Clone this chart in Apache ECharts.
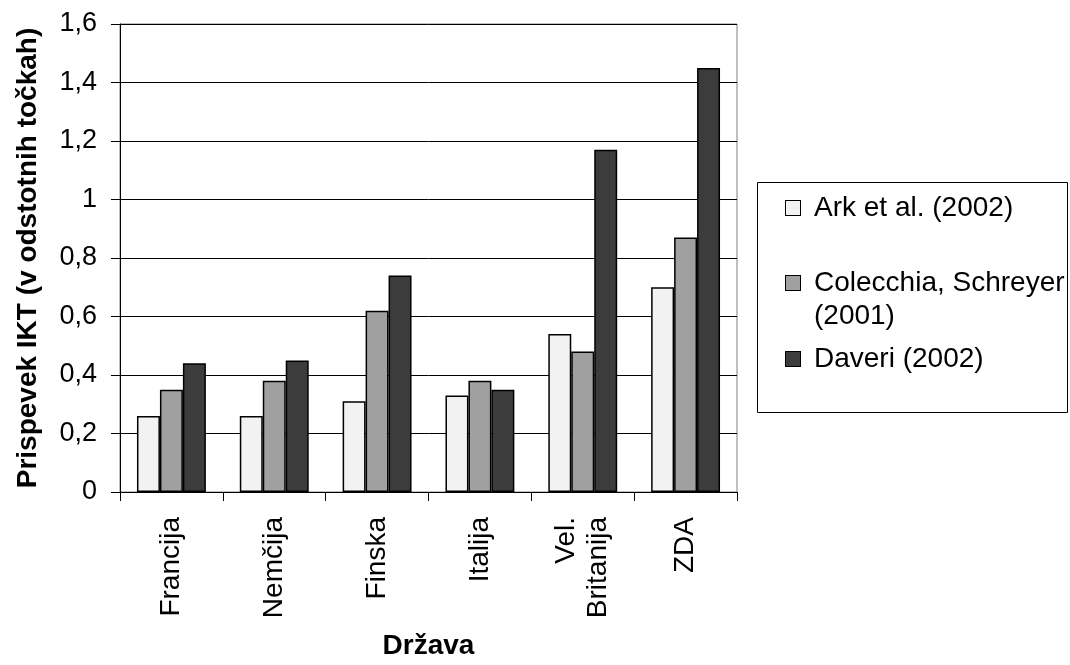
<!DOCTYPE html>
<html>
<head>
<meta charset="utf-8">
<script src="https://cdn.jsdelivr.net/npm/echarts@6/dist/echarts.min.js"></script>
<style>
  html, body { margin: 0; padding: 0; background: #fff; }
  #chart { width: 1070px; height: 665px; }
</style>
</head>
<body>
<div id="chart"></div>
<script>
// Contribution of ICT to growth, by country and study (percentage points)
const countries = ['Francija', 'Nemčija', 'Finska', 'Italija', 'Vel.\nBritanija', 'ZDA'];
const arkValues = [0.26, 0.26, 0.31, 0.33, 0.54, 0.70];
const colecchiaValues = [0.35, 0.38, 0.62, 0.38, 0.48, 0.87];
const daveriValues = [0.44, 0.45, 0.74, 0.35, 1.17, 1.45];
const seriesNames = ['Ark et al. (2002)', 'Colecchia, Schreyer\n(2001)', 'Daveri (2002)'];
const yTickLabels = ['0', '0,2', '0,4', '0,6', '0,8', '1', '1,2', '1,4', '1,6'];

const FONT = "'Liberation Sans', Arial, sans-serif";
const barColors = ['#f2f2f2', '#a0a0a0', '#3c3c3c'];
const seriesValues = [arkValues, colecchiaValues, daveriValues];
const legendTops = [194, 269, 345];

const chart = echarts.init(document.getElementById('chart'), null, { renderer: 'canvas' });

// one legend per entry so each line of the box can be placed on its own
const legends = seriesNames.map((name, i) => ({
  data: [name],
  left: 781,
  top: legendTops[i],
  padding: 0,
  itemWidth: 0,
  itemHeight: 14,
  itemStyle: { opacity: 0, borderWidth: 0 },
  selectedMode: false,
  formatter: (n) => n.split('\n')
    .map((line, k) => (k === 0 ? '{s' + i + '|}' : '{p|}') + '{t|' + line + '}')
    .join('\n'),
  textStyle: {
    fontFamily: FONT,
    fontSize: 28,
    color: '#000',
    rich: {
      s0: { width: 14, height: 14, backgroundColor: barColors[0], borderColor: '#000', borderWidth: 1, verticalAlign: 'middle' },
      s1: { width: 14, height: 14, backgroundColor: barColors[1], borderColor: '#000', borderWidth: 1, verticalAlign: 'middle' },
      s2: { width: 14, height: 14, backgroundColor: barColors[2], borderColor: '#000', borderWidth: 1, verticalAlign: 'middle' },
      p: { width: 14 },
      t: { fontFamily: FONT, fontSize: 28, lineHeight: 33, color: '#000', padding: [0, 0, 0, 14] }
    }
  }
}));

chart.setOption({
  animation: false,
  backgroundColor: '#fff',
  grid: {
    left: 120, right: 333, top: 24, bottom: 168,
    show: true, borderColor: '#808080', borderWidth: 1, backgroundColor: 'transparent'
  },
  legend: legends,
  graphic: [{
    type: 'rect',
    shape: { x: 757.5, y: 182.5, width: 310, height: 230 },
    style: { fill: 'none', stroke: '#000', lineWidth: 1 },
    z: -1
  }],
  xAxis: {
    type: 'category',
    data: countries,
    name: 'Država',
    nameLocation: 'middle',
    nameGap: 140,
    nameTextStyle: { fontFamily: FONT, fontSize: 28, fontWeight: 'bold', color: '#000' },
    axisLine: { lineStyle: { color: '#000', width: 1 } },
    axisTick: { show: true, alignWithLabel: false, length: 9, interval: 0, lineStyle: { color: '#000' } },
    axisLabel: {
      interval: 0, rotate: 90, margin: 25,
      fontFamily: FONT, fontSize: 28, color: '#000', lineHeight: 32
    },
    splitLine: { show: false }
  },
  yAxis: {
    type: 'value',
    min: 0, max: 1.6, interval: 0.2,
    name: 'Prispevek IKT (v odstotnih točkah)',
    nameLocation: 'middle',
    nameGap: 78,
    nameTextStyle: { fontFamily: FONT, fontSize: 28, fontWeight: 'bold', color: '#000' },
    axisLine: { show: true, lineStyle: { color: '#000', width: 1 } },
    axisTick: { show: true, length: 9, lineStyle: { color: '#000' } },
    axisLabel: {
      margin: 23, fontFamily: FONT, fontSize: 27, color: '#000',
      formatter: (v) => yTickLabels[Math.round(v / 0.2)]
    },
    splitLine: { show: true, lineStyle: { color: '#000', width: 1 } }
  },
  series: seriesNames.map((name, i) => ({
    name: name,
    type: 'bar',
    data: seriesValues[i],
    barGap: '0%',
    barCategoryGap: '33%',
    itemStyle: { color: barColors[i], borderColor: '#000', borderWidth: 1.5 }
  }))
});
</script>
</body>
</html>
